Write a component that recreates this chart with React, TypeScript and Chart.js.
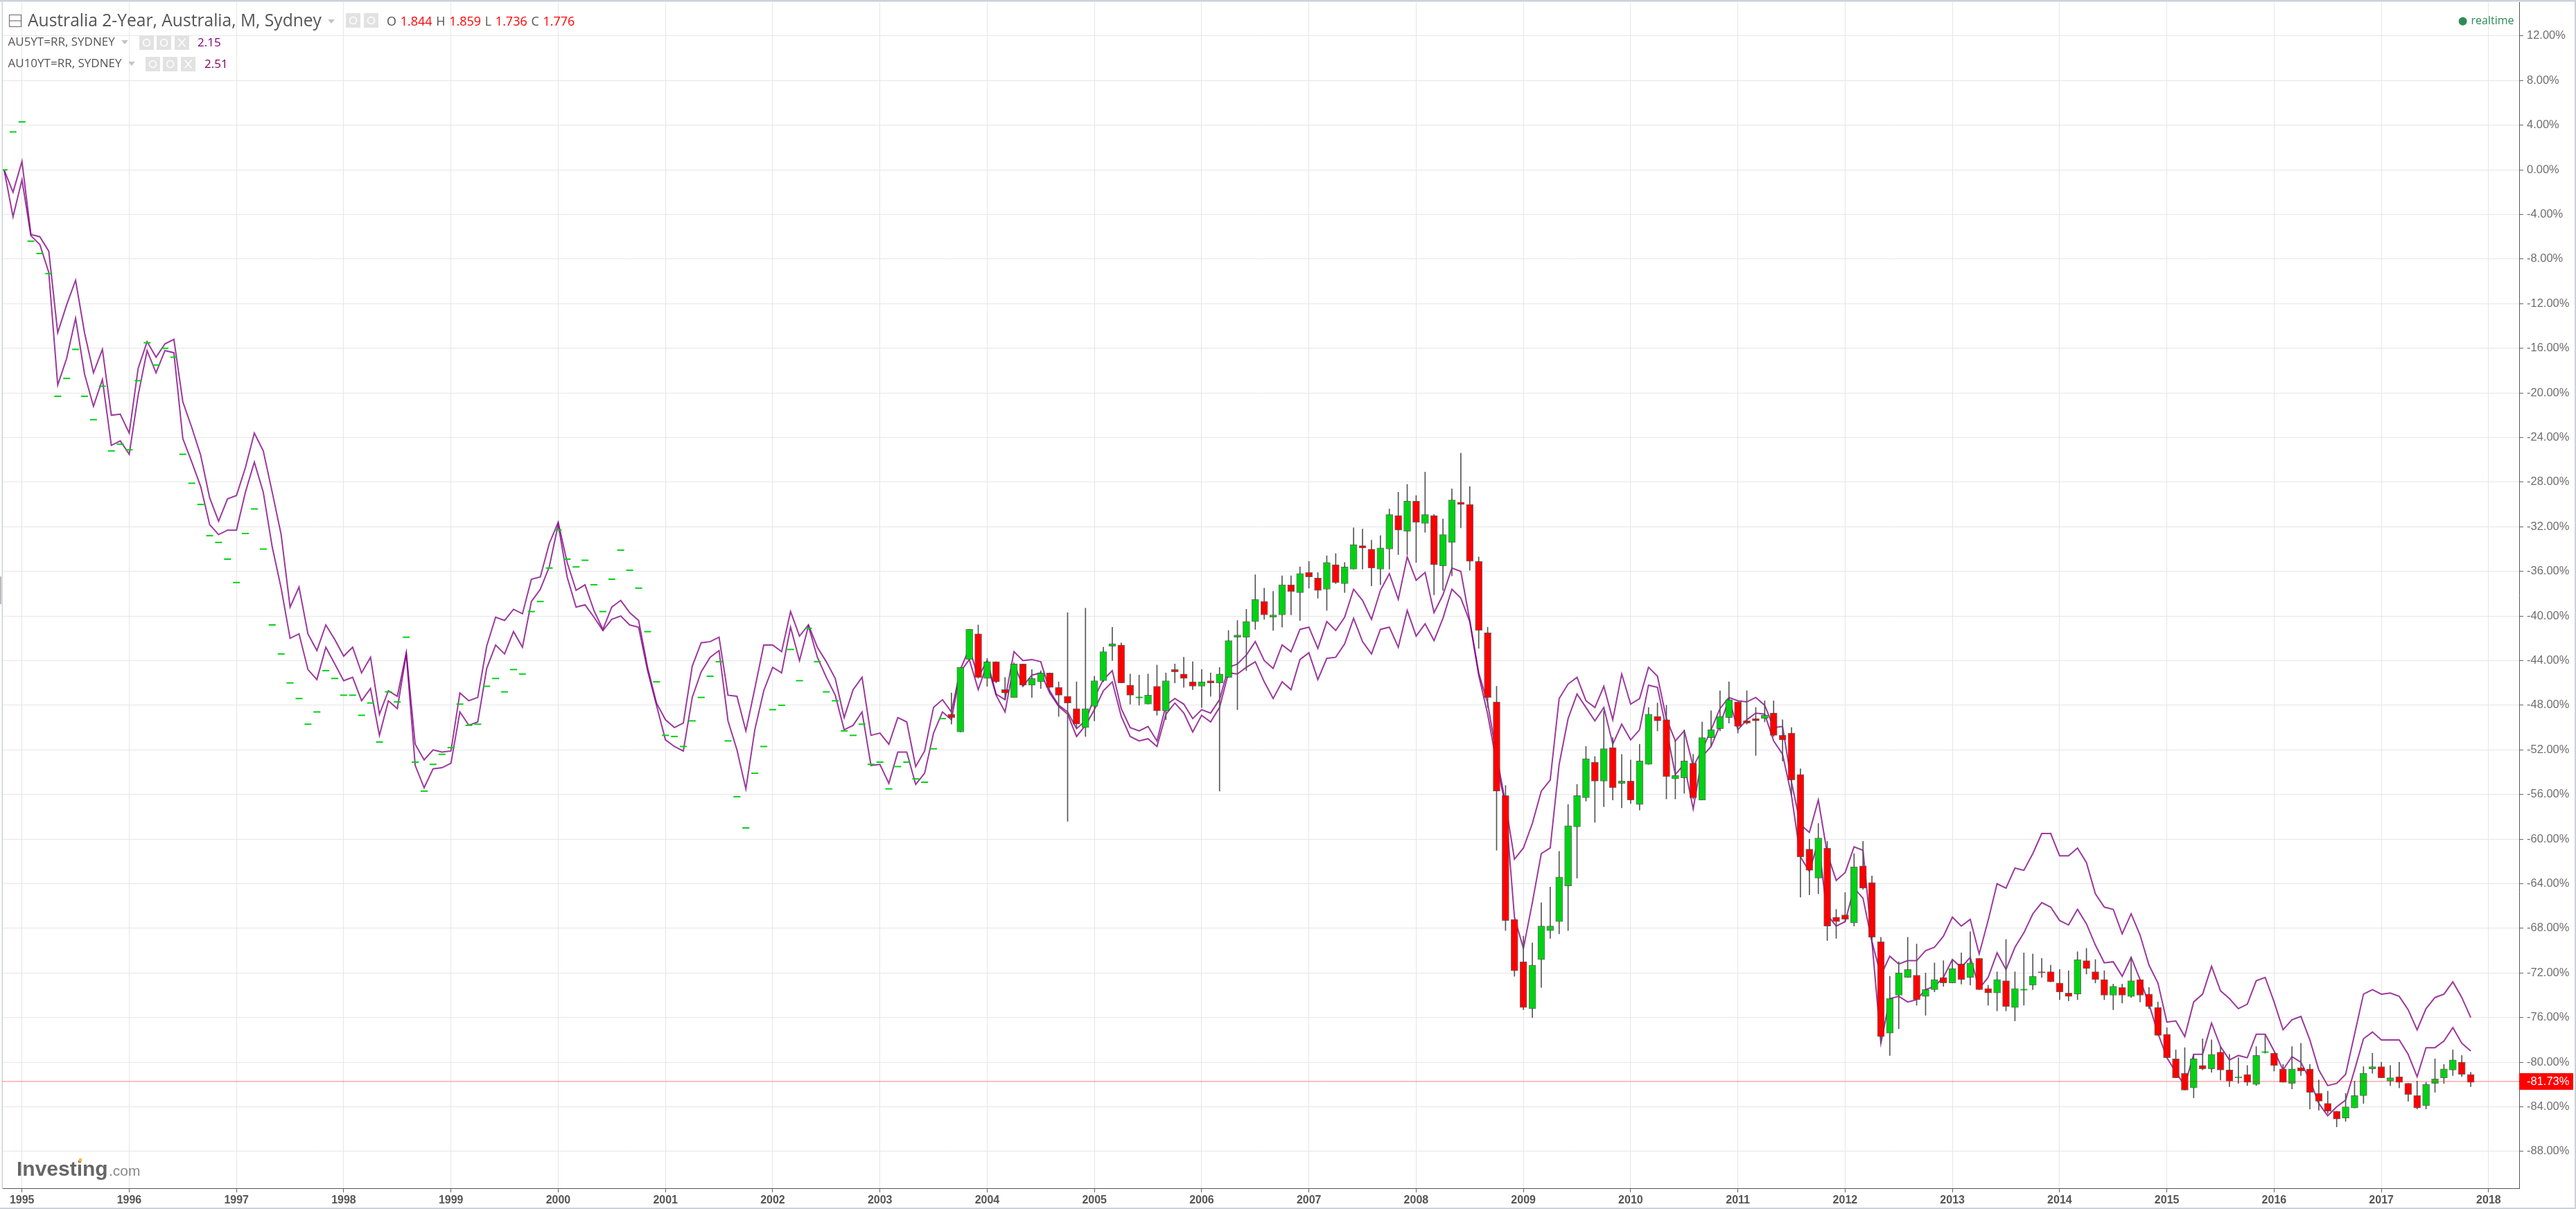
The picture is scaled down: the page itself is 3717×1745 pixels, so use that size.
import React, { useEffect, useRef } from "react";
import { Chart, registerables } from "chart.js";

Chart.register(...registerables);

// Months run from Nov 1994 to Nov 2017.
const START_MONTH_OFFSET = 10;
const yearTicks = [1995,1996,1997,1998,1999,2000,2001,2002,2003,2004,2005,2006,2007,2008,2009,2010,2011,2012,2013,2014,2015,2016,2017,2018];
const percentTicks = [12,8,4,0,-4,-8,-12,-16,-20,-24,-28,-32,-36,-40,-44,-48,-52,-56,-60,-64,-68,-72,-76,-80,-84,-88];
const lastValue = -81.73;

// Nov 1994 .. Aug 2003: months with a single price only
const flatPrices = [
  0,3.4,
  4.3,-6.4,-7.5,-9.3,-20.3,-18.7,-16.1,-20.3,-22.4,-19.4,-25.2,-24.6,
  -25.1,-18.9,-15.5,-17.5,-16,-16.8,-25.5,-28.1,-30,-32.8,-33.4,-34.9,
  -37,-32.6,-30.4,-34,-40.8,-43.4,-46,-47.4,-49.7,-48.6,-44.9,-45.6,
  -47.1,-47.1,-48.9,-47.8,-51.3,-46.8,-47.7,-41.9,-53.1,-55.7,-53.3,-52.4,
  -51.8,-47.9,-49.8,-49.7,-46.3,-45.6,-46.8,-44.8,-45.2,-39.6,-38.7,-35.7,
  -32.3,-34.9,-35.6,-35,-37.2,-39.6,-36.7,-34.1,-35.9,-37.5,-41.4,-45.9,
  -50.7,-50.8,-51.7,-49.4,-47.3,-45.4,-44.1,-51.2,-56.2,-59,-54.1,-51.7,
  -48.4,-48,-43,-45.8,-41.1,-44.1,-46.8,-47.6,-50.3,-50.7,-49.7,-53.3,
  -53.1,-55.5,-53.5,-53.1,-54.6,-54.9,-51.9,-49.2,
];

// Sep 2003 .. Nov 2017
const candleOpen = [
  -48.8,-50.4,-43.9,-41.6,
  -45.6,-44.1,-46.6,-47.3,-44.3,-46.2,-45.9,-45.1,-46.4,-47.2,-48.3,-50,
  -48.1,-45.8,-42.7,-42.6,-46.2,-47.3,-47.9,-46.3,-48.5,-44.8,-45.2,-45.9,
  -46.3,-45.8,-46,-45.5,-41.9,-41.9,-40.5,-38.7,-40.1,-39.9,-37.2,-37.9,
  -36.1,-36.6,-37.6,-35.4,-37.1,-35.8,-33.7,-34,-35.8,-34,-31,-32.4,
  -29.7,-31.7,-31,-35.5,-33.4,-29.8,-30,-35.1,-41.5,-47.7,-56.1,-67.2,
  -71,-75.2,-70.8,-68.2,-67.4,-64.2,-58.9,-56.3,-53.1,-54.8,-51.8,-55,
  -54.8,-56.9,-53.3,-49,-49.3,-54.6,-54.5,-53.2,-56.5,-50.9,-50.1,-49.1,
  -47.7,-49.4,-49.2,-49.2,-48.7,-50.7,-50.5,-54.2,-60.9,-63.5,-60.8,-67,
  -66.8,-67.5,-62.4,-63.9,-69.2,-77.4,-74,-72.4,-72.2,-74.1,-73.5,-72.4,
  -72.9,-71.2,-72.4,-70.7,-73.4,-73.8,-72.7,-75.1,-73.5,-73.1,-71.9,-71.9,
  -72.9,-73.8,-73.9,-70.9,-71.9,-72.6,-74,-73.3,-74.1,-72.6,-73.9,-75.1,
  -77.5,-79.7,-81,-82.3,-80.3,-80.6,-79.1,-80.7,-81.4,-81.1,-82,-79.1,
  -79.2,-80.6,-81.9,-80.5,-80.6,-82.8,-83.7,-84.4,-85,-84.1,-83,-80.6,
  -80.4,-81.7,-81.3,-81.9,-83,-83.9,-81.9,-81.4,-80.7,-80,-81.1,
];
const candleClose = [
  -49.1,-44.6,-41.2,-45.5,
  -44.1,-45.9,-46.9,-44.3,-46.2,-45.6,-45.1,-46.4,-47.1,-47.8,-49.7,-48.3,
  -45.8,-43.2,-42.5,-46,-47.1,-47.3,-47.1,-48.5,-45.8,-45,-45.6,-46.3,
  -45.9,-46,-45.2,-42.2,-41.7,-40.5,-38.5,-39.9,-39.9,-37.2,-37.8,-36.2,
  -36.5,-37.7,-35.2,-37,-35.6,-33.6,-33.9,-35.7,-33.9,-30.9,-32.3,-29.7,
  -31.6,-30.9,-35.4,-32.7,-29.6,-30,-35.1,-41.3,-47.3,-55.7,-67.3,-71.8,
  -75.1,-71.3,-67.8,-67.8,-63.4,-58.8,-56.1,-52.8,-54.8,-51.9,-55.4,-54.8,
  -56.5,-53,-48.8,-49.4,-54.4,-54.3,-53,-56.3,-50.9,-50.2,-49,-47.5,
  -49.9,-49.6,-49.4,-48.9,-50.7,-51.1,-54.7,-61.6,-62.8,-59.9,-67.8,-67.4,
  -67.2,-62.5,-64.4,-68.8,-77.7,-74.3,-72,-71.7,-74.4,-73.5,-72.6,-72.9,
  -71.6,-72.6,-71.1,-73.5,-73.8,-72.6,-75,-73.4,-73.5,-72.3,-72,-72.8,
  -73.7,-74.1,-70.8,-71.6,-72.6,-74,-73.2,-74,-72.7,-74,-75,-77.6,
  -79.6,-81.4,-82.5,-79.7,-80.6,-79.3,-80.7,-81.7,-81.3,-81.8,-79.4,-79.1,
  -80.3,-81.8,-80.6,-80.8,-82.7,-83.5,-84.4,-85.1,-84,-83,-81,-80.4,
  -81.4,-81.4,-81.8,-82.9,-84.1,-82,-81.5,-80.6,-79.8,-81.1,-81.8,
];
const candleHigh = [
  -46.9,-44.6,-41.2,-40.8,
  -43.8,-44.1,-45.5,-44.3,-44.3,-44.8,-44.9,-45.1,-45.9,-39.7,-45.9,-39.3,
  -45.4,-42.8,-41,-42.4,-45.2,-45.3,-45.2,-44.4,-45.1,-44.3,-43.7,-44.1,
  -44.8,-45.1,-44.6,-41.3,-40.4,-39.4,-36.3,-37.5,-37.8,-36.4,-36.4,-35.6,
  -35.1,-36.1,-34.6,-34.4,-35.2,-32.1,-32.2,-33.2,-32.8,-30.4,-28.9,-28.2,
  -29.2,-27.1,-30.9,-31.3,-28.6,-25.4,-28.4,-34.7,-41,-46.3,-55.2,-67.2,
  -68.7,-69.3,-65.7,-64.3,-61.1,-56.9,-55.1,-51.7,-52.6,-48.5,-50.9,-52.4,
  -52.9,-51.5,-48.2,-47.8,-48,-51.2,-50.2,-52.4,-49.5,-48.5,-46.7,-45.9,
  -47.7,-46.7,-48.2,-47.6,-47.6,-49.3,-50,-53.7,-60,-58.6,-60.2,-66.3,
  -64.8,-61.3,-60.2,-63.3,-68.8,-72.3,-71,-68.8,-69.4,-72,-71.1,-70.9,
  -70.8,-70.2,-68.3,-70.7,-73.1,-71.9,-69,-71.9,-70.2,-70.3,-70.7,-71.3,
  -71.7,-71.8,-70.1,-69.8,-70.8,-71.8,-73,-73,-70.6,-72.6,-73.3,-74.6,
  -76.9,-78.9,-78.7,-79.3,-77.9,-78,-78.6,-79.3,-79.6,-80.3,-78.6,-77.6,
  -79.2,-80.2,-78.6,-78.3,-80.2,-81.6,-82.6,-84.4,-82.8,-81.7,-80.4,-79.2,
  -80,-80.3,-80,-81.9,-81.7,-81.8,-79.7,-80.2,-78.9,-79.4,-80.9,
];
const candleLow = [
  -49.7,-50.4,-43.9,-45.5,
  -46.3,-46,-47.5,-47.3,-46.3,-47.3,-46.5,-46.4,-49,-58.4,-50,-50.8,
  -49.4,-45.9,-44,-46,-47.9,-48,-47.9,-48.9,-49.3,-46,-46.4,-46.6,
  -48.2,-47.2,-55.7,-45.5,-48.4,-44.9,-41.2,-40.3,-41.3,-41,-39.9,-40.4,
  -37.5,-38.4,-39.5,-37.1,-37.9,-35.8,-35.8,-37.3,-37.2,-35.8,-34.5,-34.5,
  -35.2,-32.5,-38.1,-37.7,-36.4,-32.1,-35.9,-42.9,-48.2,-61,-68.2,-72.3,
  -75.3,-76,-73.3,-68.9,-68.5,-68.2,-63.5,-56.6,-58.5,-57.1,-56.5,-57.2,
  -56.8,-57.4,-53.3,-50.3,-56.4,-56.4,-55.9,-56.4,-56.5,-51.7,-50.3,-49.6,
  -50.5,-49.7,-52.5,-49.5,-50.8,-53,-56.1,-65.2,-65,-64.9,-69.1,-68.9,
  -67.4,-67.8,-64.5,-69.2,-78.3,-79.4,-77,-72.4,-74.9,-75.8,-73.7,-73.2,
  -72.9,-73,-73.1,-73.5,-74.9,-75.4,-75.4,-76.3,-74.9,-73.5,-72.4,-72.8,
  -74.4,-74.5,-74.4,-72.1,-72.9,-74.4,-75.3,-74.7,-74.2,-74.6,-75.2,-77.6,
  -79.6,-81.4,-82.5,-83.2,-80.7,-80.9,-81.6,-82.2,-81.9,-82.1,-82.1,-79.2,
  -80.8,-81.8,-82.4,-81.2,-84.2,-84.3,-84.6,-85.8,-85.3,-84.1,-83.7,-81,
  -81.4,-82.1,-82.3,-83.5,-84.2,-84.2,-82.7,-81.9,-81.2,-81.3,-82.2,
];

// AU10YT=RR, Nov 1994 .. Nov 2017
const tenYear = [
  0,-2,
  0.75,-5.8,-6,-7.3,-14.6,-12.1,-9.9,-14.6,-18.2,-16.1,-22,-21.9,
  -23.6,-17.8,-15.4,-16.8,-15.6,-15.2,-20.8,-23.1,-25.6,-29.4,-31.5,-29.5,
  -29.2,-26.7,-23.6,-25.2,-28.9,-32.7,-39.2,-37.4,-41.6,-43.1,-40.8,-42.1,
  -43.6,-42.8,-45.1,-43.7,-48.8,-46.7,-47.2,-43.3,-51.5,-52.9,-52,-52.2,
  -52.1,-46.9,-47.6,-47.3,-42.7,-40.1,-40.4,-39.4,-39.8,-36.7,-36.5,-33.5,
  -31.6,-35.2,-37.7,-37.2,-39.5,-41.2,-39.2,-38.6,-39.7,-40.4,-44.6,-47.8,
  -49.3,-50,-49.6,-44.5,-42.4,-42.3,-41.9,-47.1,-47.2,-50.3,-46.5,-42.6,
  -42.6,-43.2,-39.6,-41.8,-40.8,-42.8,-44.1,-45.6,-49.1,-46.6,-45.5,-50.7,
  -50.5,-51.5,-49.1,-49.5,-53.5,-52.1,-48.2,-47.5,-48.6,-44.8,-42.9,-45.5,
  -44,-47,-47.5,-43.2,-44,-43.9,-44.1,-46.7,-48,-48.6,-50.1,-49.4,
  -47.3,-45.7,-44.9,-48.3,-50,-50.3,-49.9,-51.2,-48,-47.4,-47.9,-49.2,
  -48.4,-48.7,-47.5,-44.6,-44.3,-43.5,-42.3,-44,-44.7,-42.6,-43.2,-41.2,
  -41,-42.9,-40.5,-41.3,-40.1,-37.6,-38.6,-40.3,-37.7,-36.2,-38.5,-34.7,
  -36.8,-36.1,-39.7,-38.1,-35.7,-36,-40.4,-45.1,-47.8,-52.5,-56.8,-61.8,
  -60.8,-58.6,-55.7,-54.7,-47.4,-46.1,-45.5,-47.6,-48.2,-46.3,-49.3,-45.2,
  -47.9,-47.4,-44.6,-45.4,-49.2,-51.2,-50.3,-53.5,-52,-50.2,-48.3,-47.3,
  -47.6,-47.7,-47.3,-48,-50,-49.9,-54.9,-58.7,-59.4,-56.5,-61.3,-63.7,
  -63,-60.7,-61,-69.2,-72.2,-70.5,-71.2,-70.9,-70.9,-70,-69.7,-68.7,
  -67,-67.8,-67.2,-70.3,-67.3,-64,-64.4,-62.6,-62.8,-61.3,-59.5,-59.5,
  -61.5,-61.5,-60.8,-62.1,-64.9,-66.1,-66.3,-68.5,-66.7,-68.6,-71.3,-72.9,
  -76.4,-76.3,-77.7,-74.6,-73.9,-71.4,-73.6,-74.3,-75.2,-74.8,-72.7,-72.4,
  -74.6,-77.1,-76.2,-75.9,-78,-80.7,-82.1,-81.9,-81.1,-77.5,-73.9,-73.5,
  -73.9,-73.8,-74.1,-75.3,-77.1,-75.2,-74.2,-73.9,-72.8,-74.2,-76,
];
// AU5YT=RR, Nov 1994 .. Nov 2017
const fiveYear = [
  0,-4.2,
  -0.9,-5.9,-6.7,-9.2,-19.3,-16.9,-13.3,-18.3,-21.2,-18.8,-24.7,-24.3,
  -25.5,-20.2,-16.2,-18.2,-16.2,-16.4,-24.1,-26.2,-28.4,-31.8,-32.7,-32.3,
  -32.3,-28.9,-26.2,-28.9,-33.8,-37.5,-42,-41.6,-44.8,-45.7,-42.8,-44.3,
  -45.8,-45.5,-47.6,-46.5,-50.7,-47.6,-48.3,-43.4,-53.4,-55.4,-53.7,-53.6,
  -53.2,-48.6,-49.8,-49.5,-44.7,-42.6,-43.4,-41.4,-42.8,-38.7,-37.6,-35.6,
  -31.8,-36.5,-39.2,-39,-40.1,-41.3,-40.3,-40,-40.8,-41,-44.9,-48,
  -51.1,-51.7,-52.1,-47.3,-45,-43.7,-43.1,-49.4,-52,-55.5,-50.2,-46.7,
  -44.6,-45.1,-41,-44,-40.9,-43.7,-45.5,-47.1,-50.2,-49.8,-48.6,-53.4,
  -53.3,-55,-52.2,-52.2,-55.1,-54.1,-50.5,-48.6,-49.3,-45,-43.9,-46.6,
  -44.3,-47.1,-48.6,-44.3,-46.3,-45.3,-45.1,-46.9,-48.1,-48.8,-50.8,-49.8,
  -48.4,-46.7,-45.9,-49,-50.8,-51.2,-51,-51.7,-48.8,-47.8,-48.7,-50.4,
  -48.9,-49.5,-48.2,-45.1,-45.2,-44.6,-44.1,-45.9,-47.4,-45.9,-46.6,-43.9,
  -43.3,-45.7,-43.8,-43.7,-42.5,-40.2,-42.3,-43.4,-41.2,-41,-42.8,-39.5,
  -41.8,-40.7,-42.2,-40.2,-37.6,-38.4,-40.5,-45.3,-48.8,-53.2,-57,-67,
  -69.8,-65.7,-61.3,-60.8,-53.3,-49.2,-47,-48.2,-49.4,-48.2,-51.5,-49.7,
  -51.1,-50.2,-46.2,-46.4,-50.2,-54.2,-53.3,-57.3,-52.6,-51.7,-49.8,-47.4,
  -50.2,-49.3,-48.7,-48.8,-51.2,-52.4,-56.1,-61.6,-62.9,-60.2,-66.8,-67.8,
  -67.4,-64.4,-65.3,-69.2,-78.3,-74.3,-74.1,-74.6,-74.4,-73.5,-73.2,-72.4,
  -70.8,-71.5,-70.6,-73.4,-72.4,-70.2,-71.7,-69.7,-68.4,-66.7,-65.7,-66.1,
  -67.3,-67.7,-66.3,-67.6,-69.5,-71.1,-71,-72.3,-70.6,-72.6,-74.8,-77.4,
  -79.6,-80.9,-82.1,-79.3,-79.3,-76.5,-78.6,-79.8,-79.4,-79.6,-77.5,-77.5,
  -79,-80.7,-79.5,-80,-81.6,-83.7,-84.8,-84,-83.4,-80.7,-77.9,-77.3,
  -78,-78,-78,-79.3,-81.3,-78.7,-78.7,-78.1,-76.9,-78.3,-79,
];

const monthX = (i: number) => 1994 + (START_MONTH_OFFSET + i) / 12;
const firstCandle = flatPrices.length;

const FONT = '"Liberation Sans", Arial, sans-serif';
const HEAD = '"Open Sans", sans-serif';

const decorations = {
  id: "decorations",
  afterDraw(chart: any) {
    const c = chart.ctx;
    const y = chart.scales.y.getPixelForValue(lastValue);
    c.save();
    // price tag on the axis
    c.fillStyle = "#ff0000";
    c.fillRect(3635, y - 12, 78, 24);
    c.fillStyle = "#fff";
    c.font = `16.5px ${FONT}`;
    c.textBaseline = "middle";
    c.textAlign = "left";
    c.fillText(lastValue.toFixed(2) + "%", 3646, y + 0.5);

    // frame
    c.fillStyle = "#cdd1d8";
    c.fillRect(0, 0, 3717, 2.5);
    c.fillRect(3715, 0, 2, 1745);
    c.fillRect(0, 1743, 3717, 2);
    c.fillRect(2.5, 0, 1.5, 1716);
    c.fillStyle = "#bbb";
    c.fillRect(0, 832, 2, 40);

    // header: collapse button
    c.strokeStyle = "#777";
    c.lineWidth = 1.2;
    c.strokeRect(13.5, 21.5, 17, 17);
    c.beginPath(); c.moveTo(14, 30); c.lineTo(30, 30); c.stroke();

    // header text
    c.fillStyle = "#555";
    c.font = `24.6px ${HEAD}`;
    c.fillText("Australia 2-Year, Australia, M, Sydney", 40, 31);
    const tri = (x: number, yy: number, w: number) => {
      c.fillStyle = "#c4c4c4";
      c.beginPath(); c.moveTo(x, yy); c.lineTo(x + w, yy); c.lineTo(x + w / 2, yy + 6); c.closePath(); c.fill();
    };
    tri(473, 28, 10); tri(175, 58, 10); tri(185, 89, 10);
    c.fillStyle = "#e2e2e2";
    [[499, 19], [525, 19], [201, 51], [226, 51], [252, 51], [210, 82], [235, 82], [261, 82]].forEach(([x, yy]) =>
      c.fillRect(x, yy, 21, 21)
    );
    c.strokeStyle = "#fff";
    c.lineWidth = 1.5;
    [[509.5, 29.5], [535.5, 29.5], [211.5, 61.5], [236.5, 61.5], [220.5, 92.5], [245.5, 92.5]].forEach(([x, yy]) => {
      c.beginPath(); c.arc(x, yy, 5, 0, Math.PI * 2); c.stroke();
    });
    [[262.5, 61.5], [271.5, 92.5]].forEach(([x, yy]) => {
      c.beginPath(); c.moveTo(x - 5, yy - 6); c.lineTo(x + 5, yy + 6); c.moveTo(x + 5, yy - 6); c.lineTo(x - 5, yy + 6); c.stroke();
    });

    c.font = `18px ${HEAD}`;
    let x = 558;
    [["O ", "#555"], ["1.844 ", "#f00"], ["H ", "#555"], ["1.859 ", "#f00"], ["L ", "#555"], ["1.736 ", "#f00"], ["C ", "#555"], ["1.776", "#f00"]].forEach(([t, col]) => {
      c.fillStyle = col;
      c.fillText(t, x, 32);
      x += c.measureText(t).width + 1;
    });

    c.fillStyle = "#555";
    c.font = `17px ${HEAD}`;
    c.fillText("AU5YT=RR, SYDNEY", 11.5, 61);
    c.fillText("AU10YT=RR, SYDNEY", 11.5, 92);
    c.font = `17px ${HEAD}`;
    c.fillStyle = "#800080";
    c.fillText("2.15", 285, 62);
    c.fillStyle = "#800060";
    c.fillText("2.51", 295, 93);

    // realtime
    c.fillStyle = "#2e8b57";
    c.beginPath(); c.arc(3553.7, 30.7, 6, 0, Math.PI * 2); c.fill();
    c.font = `16px ${HEAD}`;
    c.fillText("realtime", 3565.5, 30);

    // logo
    c.textBaseline = "alphabetic";
    c.fillStyle = "#666666";
    c.font = `bold 30px ${FONT}`;
    c.fillText("Investing", 24, 1697);
    c.fillStyle = "#8a8a8a";
    c.font = `21px ${FONT}`;
    c.fillText(".com", 157, 1697);
    c.fillStyle = "#f5b942";
    c.fillRect(114, 1672, 4, 5);
    c.restore();
  },
};

const noScalePadding = (s: any) => {
  s.paddingLeft = 0;
  s.paddingRight = 0;
  s.paddingTop = 0;
  s.paddingBottom = 0;
};

export default function App() {
  const ref = useRef<HTMLCanvasElement>(null);
  useEffect(() => {
    document.body.style.margin = "0";
    const candles = candleOpen.map((o, i) => ({
      x: monthX(firstCandle + i), o, c: candleClose[i], h: candleHigh[i], l: candleLow[i],
    }));
    const bodies = candles.filter((k) => k.o !== k.c);
    const up = (k: any) => k.c > k.o;
    const flats = [
      ...flatPrices.map((y, i) => ({ x: monthX(i), y })),
      ...candles.filter((k) => k.o === k.c).map((k) => ({ x: k.x, y: k.c })),
    ];
    const chart = new Chart(ref.current!, {
      type: "bar",
      data: {
        datasets: [
          {
            label: "bodies",
            order: 1,
            grouped: false,
            data: bodies.map((k) => ({ x: k.x, y: [k.o, k.c] })),
            barThickness: 10,
            borderWidth: 1,
            borderSkipped: false,
            borderColor: "rgba(60,60,60,0.75)",
            backgroundColor: bodies.map((k) => (up(k) ? "#00d214" : "#ff0000")),
          },
          {
            label: "wicks",
            order: 2,
            grouped: false,
            data: candles.map((k) => ({ x: k.x, y: [k.l, k.h] })),
            barThickness: 1,
            borderWidth: 0,
            backgroundColor: "#555555",
          },
          {
            type: "line",
            label: "flat",
            order: 3,
            data: flats,
            showLine: false,
            pointStyle: "line",
            pointRadius: 5,
            pointBorderWidth: 2,
            pointBorderColor: "#00d214",
          },
          {
            type: "line",
            label: "AU10YT=RR",
            order: 4,
            data: tenYear.map((y, i) => ({ x: monthX(i), y })),
            borderColor: "rgba(128,0,128,0.78)",
            borderWidth: 2,
            pointRadius: 0,
            tension: 0,
          },
          {
            type: "line",
            label: "AU5YT=RR",
            order: 4,
            data: fiveYear.map((y, i) => ({ x: monthX(i), y })),
            borderColor: "rgba(128,0,128,0.78)",
            borderWidth: 2,
            pointRadius: 0,
            tension: 0,
          },
          {
            type: "line",
            label: "last",
            order: 0,
            data: [{ x: 1994.821, y: lastValue }, { x: 2018.285, y: lastValue }],
            borderColor: "#ff0000",
            borderWidth: 1,
            borderDash: [1, 1],
            pointRadius: 0,
          },
        ] as any,
      },
      options: {
        animation: false,
        responsive: false,
        devicePixelRatio: 1,
        layout: { autoPadding: false, padding: { left: 4, top: 3, right: 0, bottom: 0 } },
        plugins: { legend: { display: false }, tooltip: { enabled: false } },
        scales: {
          x: {
            type: "linear",
            offset: false,
            min: 1994.821,
            max: 2018.285,
            afterFit: (s: any) => { s.height = 30; noScalePadding(s); },
            afterBuildTicks: (s: any) => { s.ticks = yearTicks.map((value) => ({ value })); },
            grid: { color: "#e6e6ea", offset: false, tickLength: 6, tickColor: "#666" },
            border: { color: "#555", width: 1 },
            ticks: {
              autoSkip: false, maxRotation: 0, padding: 2,
              color: "#555",
              font: { family: FONT, size: 16, weight: "bold" },
              callback: (v: any) => String(v),
            },
          },
          y: {
            position: "right",
            min: -91.3,
            max: 15.04,
            afterFit: (s: any) => { s.width = 82; noScalePadding(s); },
            afterBuildTicks: (s: any) => { s.ticks = percentTicks.map((value) => ({ value })); },
            grid: { color: "#e6e6ea", tickLength: 6, tickColor: "#666" },
            border: { color: "#555", width: 1 },
            ticks: {
              autoSkip: false, padding: 5,
              color: "#6e6e6e",
              font: { family: FONT, size: 16.5 },
              callback: (v: any) => Number(v).toFixed(2) + "%",
            },
          },
        },
      } as any,
      plugins: [decorations],
    });
    return () => chart.destroy();
  }, []);
  return (
    <div style={{ position: "absolute", left: 0, top: 0, width: 3717, height: 1745 }}>
      <canvas ref={ref} width={3717} height={1745} style={{ display: "block" }} />
    </div>
  );
}
